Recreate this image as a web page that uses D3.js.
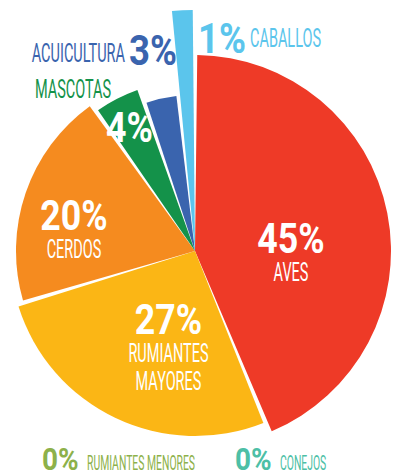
<!DOCTYPE html>
<html>
<head>
<meta charset="utf-8">
<script src="https://cdn.jsdelivr.net/npm/d3@7"></script>
<style>
  body { margin: 0; background: #fff; }
  svg { display: block; }
  text { font-family: Roboto, "DejaVu Sans Condensed", sans-serif; }
</style>
</head>
<body>
<script>
var categories = ["AVES", "RUMIANTES MAYORES", "CERDOS", "MASCOTAS", "ACUICULTURA", "CABALLOS", "RUMIANTES MENORES", "CONEJOS"];
var shares = [45, 27, 20, 4, 3, 1, 0, 0];
var colors = ["#ee3a27", "#fbb615", "#f58b1f", "#14924a", "#3a64ae", "#5bc5ec", "#8db14a", "#4dbfa6"];

var width = 394, height = 474;
var cx = 195, cy = 251;
// the poster draws every slice with its own radius
var outerR = [196, 185, 179, 171, 156, 241];
// where the inside labels sit: fraction of the slice's sweep, and radius
var labelAt = [[0.574, 96], [0.395, 100], [0.38, 123], [0.45, 140]];

var svg = d3.select("body").append("svg")
    .attr("width", width)
    .attr("height", height);

var data = categories.map(function(c, i) {
    return {name: c, value: shares[i], color: colors[i]};
});

var pie = d3.pie()
    .sort(null)
    .value(function(d) { return d.value; })
    .padAngle(0.045);

// 0% categories get no slice (and no padding)
var arcs = pie(data.filter(function(d) { return d.value > 0; }));

var arc = d3.arc()
    .innerRadius(0)
    .outerRadius(function(d) { return outerR[d.index]; })
    .padRadius(100);

var g = svg.append("g")
    .attr("transform", "translate(" + cx + "," + cy + ")");

g.selectAll("path")
    .data(arcs)
    .enter().append("path")
    .attr("d", arc)
    .style("fill", function(d) { return d.data.color; });

function label(parent, str, x, y, size, weight, fill, sx, anchor) {
    return parent.append("text")
        .attr("transform", "translate(" + x + "," + y + ") scale(" + sx + ",1)")
        .attr("text-anchor", anchor || "middle")
        .style("font-size", size + "px")
        .style("font-weight", weight)
        .style("fill", fill)
        .text(str);
}

// labels inside the four big slices
var insideLines = [["AVES"], ["RUMIANTES", "MAYORES"], ["CERDOS"], []];
var lineStep = 28;
for (var i = 0; i < insideLines.length; i++) {
    var a = arcs[i];
    var ang = a.startAngle + labelAt[i][0] * (a.endAngle - a.startAngle);
    var c = d3.pointRadial(ang, labelAt[i][1]);
    var lines = insideLines[i];
    var base = c[1] - (lineStep * lines.length - 30) / 2;
    label(g, a.data.value + "%", c[0], base, 42, "bold", "#fff", 0.85);
    for (var j = 0; j < lines.length; j++) {
        label(g, lines[j], c[0], base + lineStep * (j + 1), 25, "normal", "#fff", 0.58);
    }
}

// labels outside the pie, for the thin slices and the empty ones
var outside = [
    {i: 3, pct: null, lx: 73, ly: 98, anchor: "middle"},
    {i: 4, pct: [177, 65], lx: 125, ly: 62, anchor: "end"},
    {i: 5, pct: [198, 53], lx: 250, ly: 47, anchor: "start"},
    {i: 6, pct: [42, 470], lx: 87, ly: 470, anchor: "start", small: true},
    {i: 7, pct: [235, 470], lx: 280, ly: 470, anchor: "start", small: true}
];
outside.forEach(function(o) {
    var d = data[o.i];
    if (o.pct) {
        label(svg, d.value + "%", o.pct[0], o.pct[1], o.small ? 31 : 43, "bold", d.color,
            o.small ? 0.9 : 0.85, o.anchor === "end" ? "end" : "start");
    }
    label(svg, d.name, o.lx, o.ly, o.small ? 20 : 25, "normal", d.color,
        o.small ? 0.52 : 0.58, o.anchor);
});
</script>
</body>
</html>
